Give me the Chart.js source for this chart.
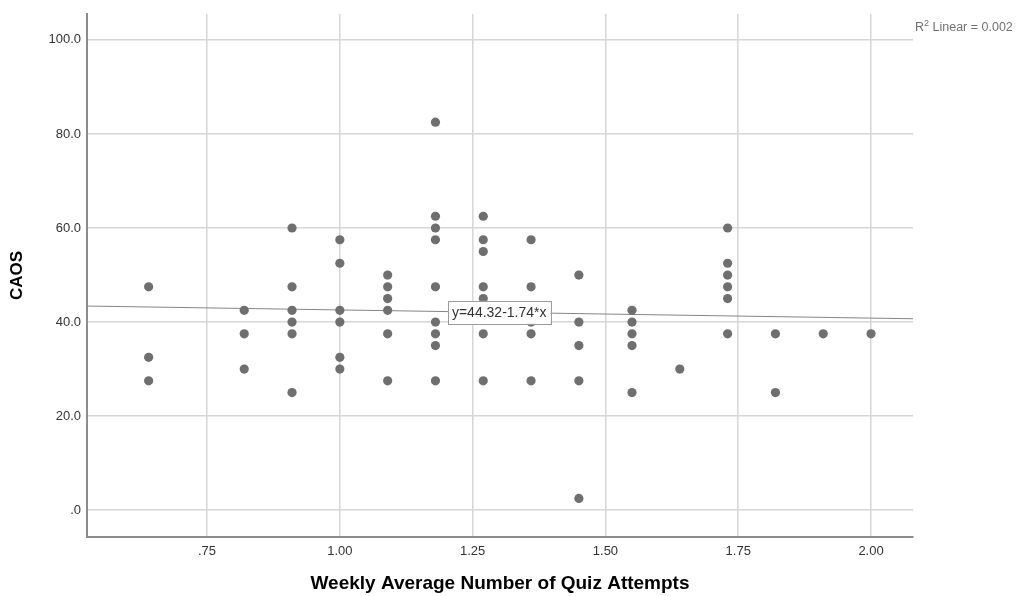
<!DOCTYPE html>
<html>
<head>
<meta charset="utf-8">
<script src="https://cdn.jsdelivr.net/npm/chart.js@4"></script>
<style>
  html, body { margin: 0; padding: 0; background: #fff; }
  #wrap { width: 1016px; height: 596px; }
</style>
</head>
<body>
<div id="wrap"><canvas id="chart" width="1016" height="596"></canvas></div>
<script>
// Weekly average quiz attempts (x columns) and CAOS scores per column
const attemptCols = [0.64, 0.82, 0.91, 1.00, 1.09, 1.18, 1.27, 1.36, 1.45, 1.55, 1.64, 1.73, 1.82, 1.91, 2.00];
const caosCols = [
    [47.5, 32.5, 27.5],
    [42.5, 37.5, 30],
    [60, 47.5, 42.5, 40, 37.5, 25],
    [57.5, 52.5, 42.5, 40, 32.5, 30],
    [50, 47.5, 45, 42.5, 37.5, 27.5],
    [82.5, 62.5, 60, 57.5, 47.5, 40, 37.5, 35, 27.5],
    [62.5, 57.5, 55, 47.5, 45, 42.5, 37.5, 27.5],
    [57.5, 47.5, 40, 37.5, 27.5],
    [50, 40, 35, 27.5, 2.5],
    [42.5, 40, 37.5, 35, 25],
    [30],
    [60, 52.5, 50, 47.5, 45, 37.5],
    [37.5, 25],
    [37.5],
    [37.5]
];

const xTicks = [0.75, 1.00, 1.25, 1.50, 1.75, 2.00];
const yTicks = [0, 20, 40, 60, 80, 100];
const xRange = [0.524, 2.079];
const yRange = [-5.7, 105.5];

// fit line shown on the chart
const fitIntercept = 44.32;
const fitSlope = -1.74;
const fitLabel = 'y=44.32-1.74*x';
const fitLabelAt = 1.30;
const rSquared = '0.002';

const points = [];
attemptCols.forEach((x, i) => caosCols[i].forEach(y => points.push({x: x, y: y})));

const fitLine = xRange.map(x => ({x: x, y: fitIntercept + fitSlope * x}));

const fmtTick = v => {
    const s = v.toFixed(v >= 10 || v === 0 ? 1 : 2);
    return s.startsWith('0') ? s.slice(1) : s;
};

const annotations = {
    id: 'annotations',
    afterDatasetsDraw(chart) {
        const ctx = chart.ctx;
        const xs = chart.scales.x, ys = chart.scales.y;
        const area = chart.chartArea;

        // fit equation box
        ctx.save();
        ctx.font = '14px "Liberation Sans", Arial, sans-serif';
        const w = ctx.measureText(fitLabel).width + 8;
        const h = 23;
        const cx = xs.getPixelForValue(fitLabelAt);
        const cy = ys.getPixelForValue(fitIntercept + fitSlope * fitLabelAt);
        ctx.fillStyle = '#fff';
        ctx.strokeStyle = '#9a9a9a';
        ctx.lineWidth = 1;
        ctx.fillRect(cx - w / 2, cy - h / 2, w, h);
        ctx.strokeRect(Math.round(cx - w / 2) + 0.5, Math.round(cy - h / 2) + 0.5, Math.round(w), h);
        ctx.fillStyle = '#333';
        ctx.textAlign = 'center';
        ctx.textBaseline = 'middle';
        ctx.fillText(fitLabel, cx, cy + 1);

        // R squared note
        ctx.fillStyle = '#707070';
        ctx.textAlign = 'left';
        ctx.textBaseline = 'alphabetic';
        let tx = area.right + 2;
        const by = 31;
        ctx.font = '12.5px "Liberation Sans", Arial, sans-serif';
        ctx.fillText('R', tx, by);
        tx += ctx.measureText('R').width;
        ctx.font = '9px "Liberation Sans", Arial, sans-serif';
        ctx.fillText('2', tx, by - 5);
        tx += ctx.measureText('2').width;
        ctx.font = '12.5px "Liberation Sans", Arial, sans-serif';
        ctx.fillText(' Linear = ' + rSquared, tx, by);
        ctx.restore();
    }
};

new Chart(document.getElementById('chart'), {
    type: 'scatter',
    data: {
        datasets: [
            {
                type: 'line',
                data: fitLine,
                borderColor: '#858585',
                borderWidth: 1,
                pointRadius: 0,
                fill: false,
                order: 2
            },
            {
                data: points,
                backgroundColor: '#6f6f6f',
                borderColor: '#6f6f6f',
                borderWidth: 0,
                pointRadius: 4.6,
                order: 1
            }
        ]
    },
    options: {
        responsive: false,
        animation: false,
        layout: { padding: { top: 14, right: 103, left: 0, bottom: 0 } },
        plugins: { legend: { display: false }, tooltip: { enabled: false } },
        scales: {
            x: {
                type: 'linear',
                min: xRange[0],
                max: xRange[1],
                afterBuildTicks: s => { s.ticks = xTicks.map(v => ({value: v})); },
                afterFit: s => { s.height = 59; },
                grid: { color: '#d6d6d6', lineWidth: 1.5, drawTicks: false },
                border: { color: '#8c8c8c', width: 2 },
                ticks: {
                    padding: 7,
                    color: '#333',
                    font: { family: '"Liberation Sans", Arial, sans-serif', size: 13 },
                    callback: v => fmtTick(v)
                },
                title: {
                    display: true,
                    text: 'Weekly Average Number of Quiz Attempts',
                    color: '#000',
                    font: { family: '"Liberation Sans", Arial, sans-serif', size: 19, weight: 'bold' },
                    padding: { top: 0, bottom: 1 }
                }
            },
            y: {
                type: 'linear',
                min: yRange[0],
                max: yRange[1],
                afterBuildTicks: s => { s.ticks = yTicks.map(v => ({value: v})); },
                afterFit: s => { s.width = 87; },
                grid: { color: '#d6d6d6', lineWidth: 1.5, drawTicks: false },
                border: { color: '#8c8c8c', width: 2 },
                ticks: {
                    padding: 6,
                    color: '#333',
                    font: { family: '"Liberation Sans", Arial, sans-serif', size: 13 },
                    callback: v => fmtTick(v)
                },
                title: {
                    display: true,
                    text: 'CAOS',
                    color: '#000',
                    font: { family: '"Liberation Sans", Arial, sans-serif', size: 17, weight: 'bold' },
                    padding: { top: 7, bottom: 0 }
                }
            }
        }
    },
    plugins: [annotations]
});
</script>
</body>
</html>
